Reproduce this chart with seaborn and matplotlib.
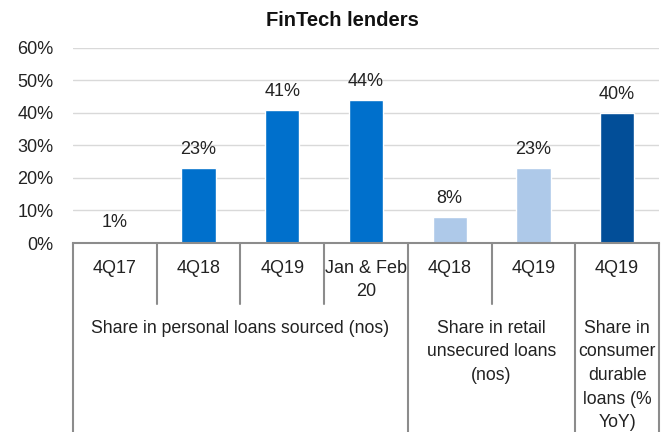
import pandas as pd
import seaborn as sns
import matplotlib.pyplot as plt
from matplotlib.transforms import blended_transform_factory

# chart data
periods = ['4Q17', '4Q18', '4Q19', 'Jan & Feb\n20', '4Q18', '4Q19', '4Q19']
shares = [0.6, 23, 41, 44, 8, 23, 40]
groups = ['Share in personal loans sourced (nos)',
          'Share in retail\nunsecured loans\n(nos)',
          'Share in\nconsumer\ndurable\nloans (%\nYoY)']
group_sizes = [4, 2, 1]
bar_colors = ['#0070CC', '#0070CC', '#0070CC', '#0070CC', '#AEC9E9', '#AEC9E9', '#024E98']

sns.set_style('white')
plt.rcParams['font.family'] = ['Liberation Sans', 'DejaVu Sans']

keys = [f'{i}_{p}' for i, p in enumerate(periods)]
data = pd.DataFrame({'key': keys, 'share': shares})

fig = plt.figure(figsize=(6.65, 4.32), dpi=100)
ax = fig.add_axes([73 / 665, 1 - 243 / 432, (659 - 73) / 665, (243 - 47.7) / 432])

sns.barplot(data=data, x='key', y='share', hue='key', order=keys, hue_order=keys,
            palette=bar_colors, width=0.41, dodge=False, legend=False, ax=ax,
            saturation=1)

for cont, v in zip(ax.containers, shares):
    ax.bar_label(cont, labels=[f'{v:.0f}%'], padding=7, fontsize=13, color='#222222')

ax.set_ylim(0, 60)
ax.set_xlim(-0.5, len(keys) - 0.5)
ax.set_yticks(range(0, 61, 10))
ax.set_yticklabels([f'{t}%' for t in range(0, 61, 10)], fontsize=13, color='#222222')
ax.yaxis.grid(True, color='#D9D9D9', linewidth=1)
ax.set_axisbelow(True)
ax.tick_params(axis='y', length=0, pad=14)
ax.set_xticks([])
ax.set_xlabel('')
ax.set_ylabel('')
for s in ['top', 'right', 'left']:
    ax.spines[s].set_visible(False)
ax.spines['bottom'].set_color('#8C8C8C')
ax.spines['bottom'].set_linewidth(1.5)

fig.text(342 / 665, 1 - 20 / 432, 'FinTech lenders', ha='center', va='center',
         fontsize=14.5, fontweight='bold', color='#111111')

# multi-level category axis
tr = blended_transform_factory(ax.transData, fig.transFigure)
def fy(px):
    return 1 - px / 432

for i, p in enumerate(periods):
    ax.text(i, fy(260), p, transform=tr, ha='center', va='top', fontsize=13,
            color='#222222', linespacing=1.45, clip_on=False)

start = 0
bounds = [-0.5]
for g, n in zip(groups, group_sizes):
    ax.text(start + (n - 1) / 2, fy(320), g, transform=tr, ha='center', va='top',
            fontsize=12.7, color='#222222', linespacing=1.5, clip_on=False)
    start += n
    bounds.append(start - 0.5)

for b in range(len(keys) + 1):
    x = b - 0.5
    y_end = 432 if x in bounds else 304
    ax.plot([x, x], [fy(243), fy(y_end)], transform=tr, color='#8C8C8C',
            linewidth=1.5, clip_on=False)

fig.savefig('out.png', dpi=100)
